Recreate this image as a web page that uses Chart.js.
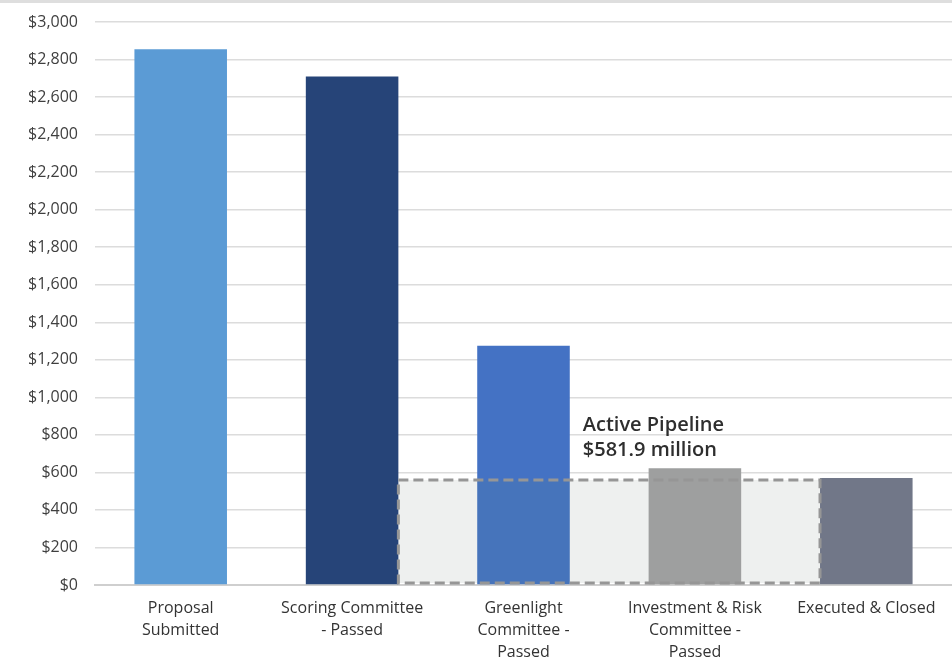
<!DOCTYPE html>
<html>
<head>
<meta charset="utf-8">
<script src="https://cdn.jsdelivr.net/npm/chart.js@4.4.0/dist/chart.umd.min.js"></script>
<style>
	html, body { margin: 0; padding: 0; background: #fff; }
	#wrap {
		width: 952px;
		height: 659px;
		box-sizing: border-box;
		border-top: 3px solid #dedede;
		position: relative;
	}
	#wrap canvas { display: block; }
</style>
</head>
<body>
<div id="wrap"><canvas id="pipeline-canvas" width="952" height="656"></canvas></div>
<script>
// data ($ millions)

const stages = [
	["Proposal", "Submitted"],
	["Scoring Committee", "- Passed"],
	["Greenlight", "Committee -", "Passed"],
	["Investment & Risk", "Committee -", "Passed"],
	"Executed & Closed",
]
const amounts = [2855, 2710, 1275, 622, 570]
const barColors = ["#5b9bd5", "#264478", "#4472c4", "#9e9f9f", "#717788"]

const pipelineLabel = ["Active Pipeline", "$581.9 million"]
const pipelineFirst = 2 // Greenlight
const pipelineLast = 3 // Investment & Risk
const pipelineTop = 560

const yMax = 3000
const yStep = 200

// Chart settings

Chart.defaults.font.family = "'Open Sans', Lato, sans-serif"
Chart.defaults.color = "#3a3a3a"

const fmtMoney = v => "$" + v.toLocaleString("en-US")

// greenlight bar is a shade duller inside the pipeline box
const barFill = ctx => {
	const base = barColors[ctx.dataIndex]
	if (ctx.dataIndex !== pipelineFirst) return base
	const { chart } = ctx
	const area = chart.chartArea
	if (!area) return base
	const y = chart.scales.y.getPixelForValue(pipelineTop)
	const t = (y - area.top) / (area.bottom - area.top)
	const g = chart.ctx.createLinearGradient(0, area.top, 0, area.bottom)
	g.addColorStop(0, base)
	g.addColorStop(t, base)
	g.addColorStop(t, "#4674bb")
	g.addColorStop(1, "#4674bb")
	return g
}

// the dashed "active pipeline" box: fill behind bars, dashes on top
const boxBounds = chart => {
	const bars = chart.getDatasetMeta(0).data
	const x = chart.scales.x
	const y = chart.scales.y
	const half = bars[0].width / 2
	return {
		left: x.getPixelForValue(pipelineFirst - 1) + half,
		right: x.getPixelForValue(pipelineLast + 1) - half,
		top: y.getPixelForValue(pipelineTop),
		bottom: y.getPixelForValue(0) - 2,
	}
}

const pipelineBox = {
	id: "pipelineBox",
	beforeDatasetsDraw(chart) {
		const b = boxBounds(chart)
		const ctx = chart.ctx
		ctx.save()
		ctx.fillStyle = "#eef0ef"
		ctx.fillRect(b.left, b.top, b.right - b.left, b.bottom - b.top)
		ctx.restore()
	},
	afterDatasetsDraw(chart) {
		const b = boxBounds(chart)
		const ctx = chart.ctx
		ctx.save()
		ctx.strokeStyle = "#969696"
		ctx.lineWidth = 3
		ctx.setLineDash([10, 5])
		ctx.strokeRect(b.left, b.top, b.right - b.left, b.bottom - b.top)
		ctx.setLineDash([])

		// label above the box
		ctx.fillStyle = "#2e2e2e"
		ctx.font = "600 20px 'Open Sans', Lato, sans-serif"
		ctx.textAlign = "left"
		ctx.textBaseline = "middle"
		const lx = chart.scales.x.getPixelForValue(pipelineFirst) + chart.getDatasetMeta(0).data[0].width / 2 + 13
		const ly = chart.scales.y.getPixelForValue(pipelineTop) - 55
		pipelineLabel.forEach((line, i) => ctx.fillText(line, lx, ly + i * 25))
		ctx.restore()
	},
}

const target = document.querySelector("#pipeline-canvas")

new Chart(target, {
	type: "bar",
	data: {
		labels: stages,
		datasets: [
			{
				label: "Pipeline",
				data: amounts,
				backgroundColor: barFill,
				barPercentage: 0.54,
				categoryPercentage: 1,
			},
		],
	},
	options: {
		responsive: false,
		animation: false,
		layout: {
			padding: { top: 19, right: 0, left: 0, bottom: 0 },
		},
		plugins: {
			legend: { display: false },
			tooltip: { enabled: false },
		},
		scales: {
			x: {
				afterFit: scale => {
					scale.height = 74
				},
				grid: { display: false, drawTicks: false },
				border: { display: true, color: "#cfcfcf", width: 2 },
				ticks: {
					color: "#333",
					font: { size: 16, lineHeight: 1.38 },
					padding: 12,
					maxRotation: 0,
					autoSkip: false,
				},
			},
			y: {
				min: 0,
				max: yMax,
				afterFit: scale => {
					scale.width = 95
					scale.paddingTop = 0
				},
				grid: {
					color: "#dcdcdc",
					lineWidth: 1.5,
					drawTicks: false,
				},
				border: { display: false },
				ticks: {
					stepSize: yStep,
					color: "#3f3f3f",
					font: { size: 16 },
					padding: 17,
					callback: v => fmtMoney(v),
				},
			},
		},
	},
	plugins: [pipelineBox],
})
</script>
</body>
</html>
